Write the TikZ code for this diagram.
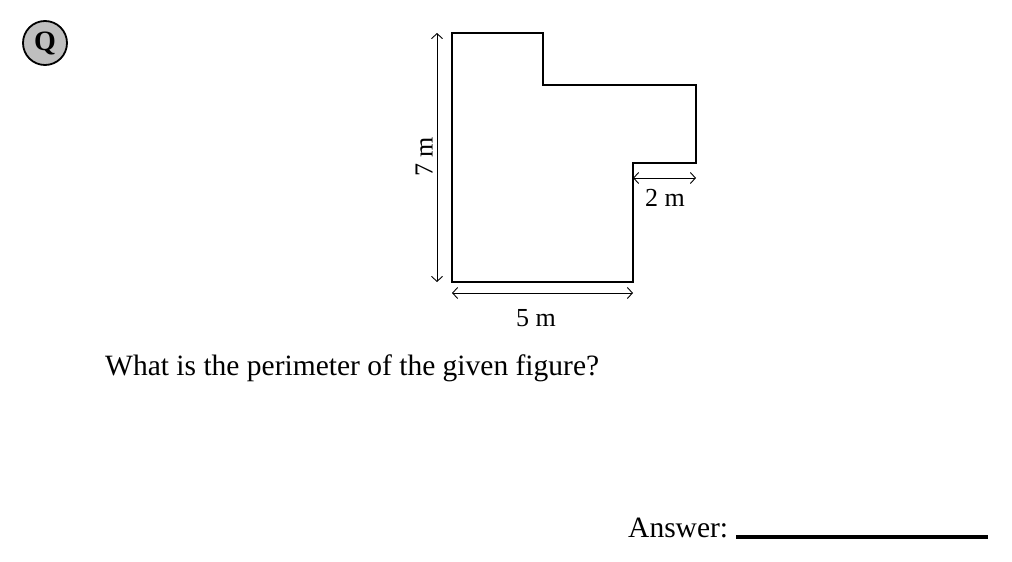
\documentclass[tikz,border=0pt]{standalone}
\usepackage{fontspec}
\setmainfont{Liberation Serif}
\usetikzlibrary{arrows.meta}

\begin{document}
\begin{tikzpicture}[x=1pt,y=-1pt,
    dim/.style={{Straight Barb[length=5pt,width=11pt]}-{Straight Barb[length=5pt,width=11pt]},line width=0.9pt},
    lbl/.style={font=\fontsize{26}{26}\selectfont,inner sep=0pt}]

          \useasboundingbox (0,0) rectangle (1012,562);

          % the figure
          \draw[line width=1.8pt] (452,33) -- (543,33) -- (543,85) -- (696,85)
                -- (696,163) -- (633,163) -- (633,282) -- (452,282) -- cycle;

          \coordinate (tl) at (437,33);
          \coordinate (bl) at (437,282);
          \coordinate (lb) at (452,293);
          \coordinate (rb) at (633,293);
          \coordinate (sl) at (633,178);
          \coordinate (sr) at (696,178);

          \draw[dim] (tl) -- (bl);
          \draw[dim] (lb) -- (rb);
          \draw[dim] (sl) -- (sr);

          \node[lbl,rotate=90]  (h)  at (424,157) {7 m};
          \node[lbl]            (w)  at (536,318) {5 m};
          \node[lbl]            (s)  at (665,198) {2 m};

          % question badge
          \node[circle,draw,line width=1.8pt,fill=black!25,minimum size=44pt,inner sep=0pt,
                font=\fontsize{28}{28}\selectfont\bfseries] (q) at (45,43) {Q};

          \node[anchor=west,inner sep=0pt,font=\fontsize{29.5}{29.5}\selectfont] (ques) at (105,368)
                {What is the perimeter of the given figure?};

          \node[anchor=west,inner sep=0pt,font=\fontsize{29.5}{29.5}\selectfont] (ans) at (628,528) {Answer:};
          \coordinate (a1) at (736,537);
          \coordinate (a2) at (988,537);
          \draw[line width=3.5pt] (a1) -- (a2);
        \end{tikzpicture}
\end{document}
